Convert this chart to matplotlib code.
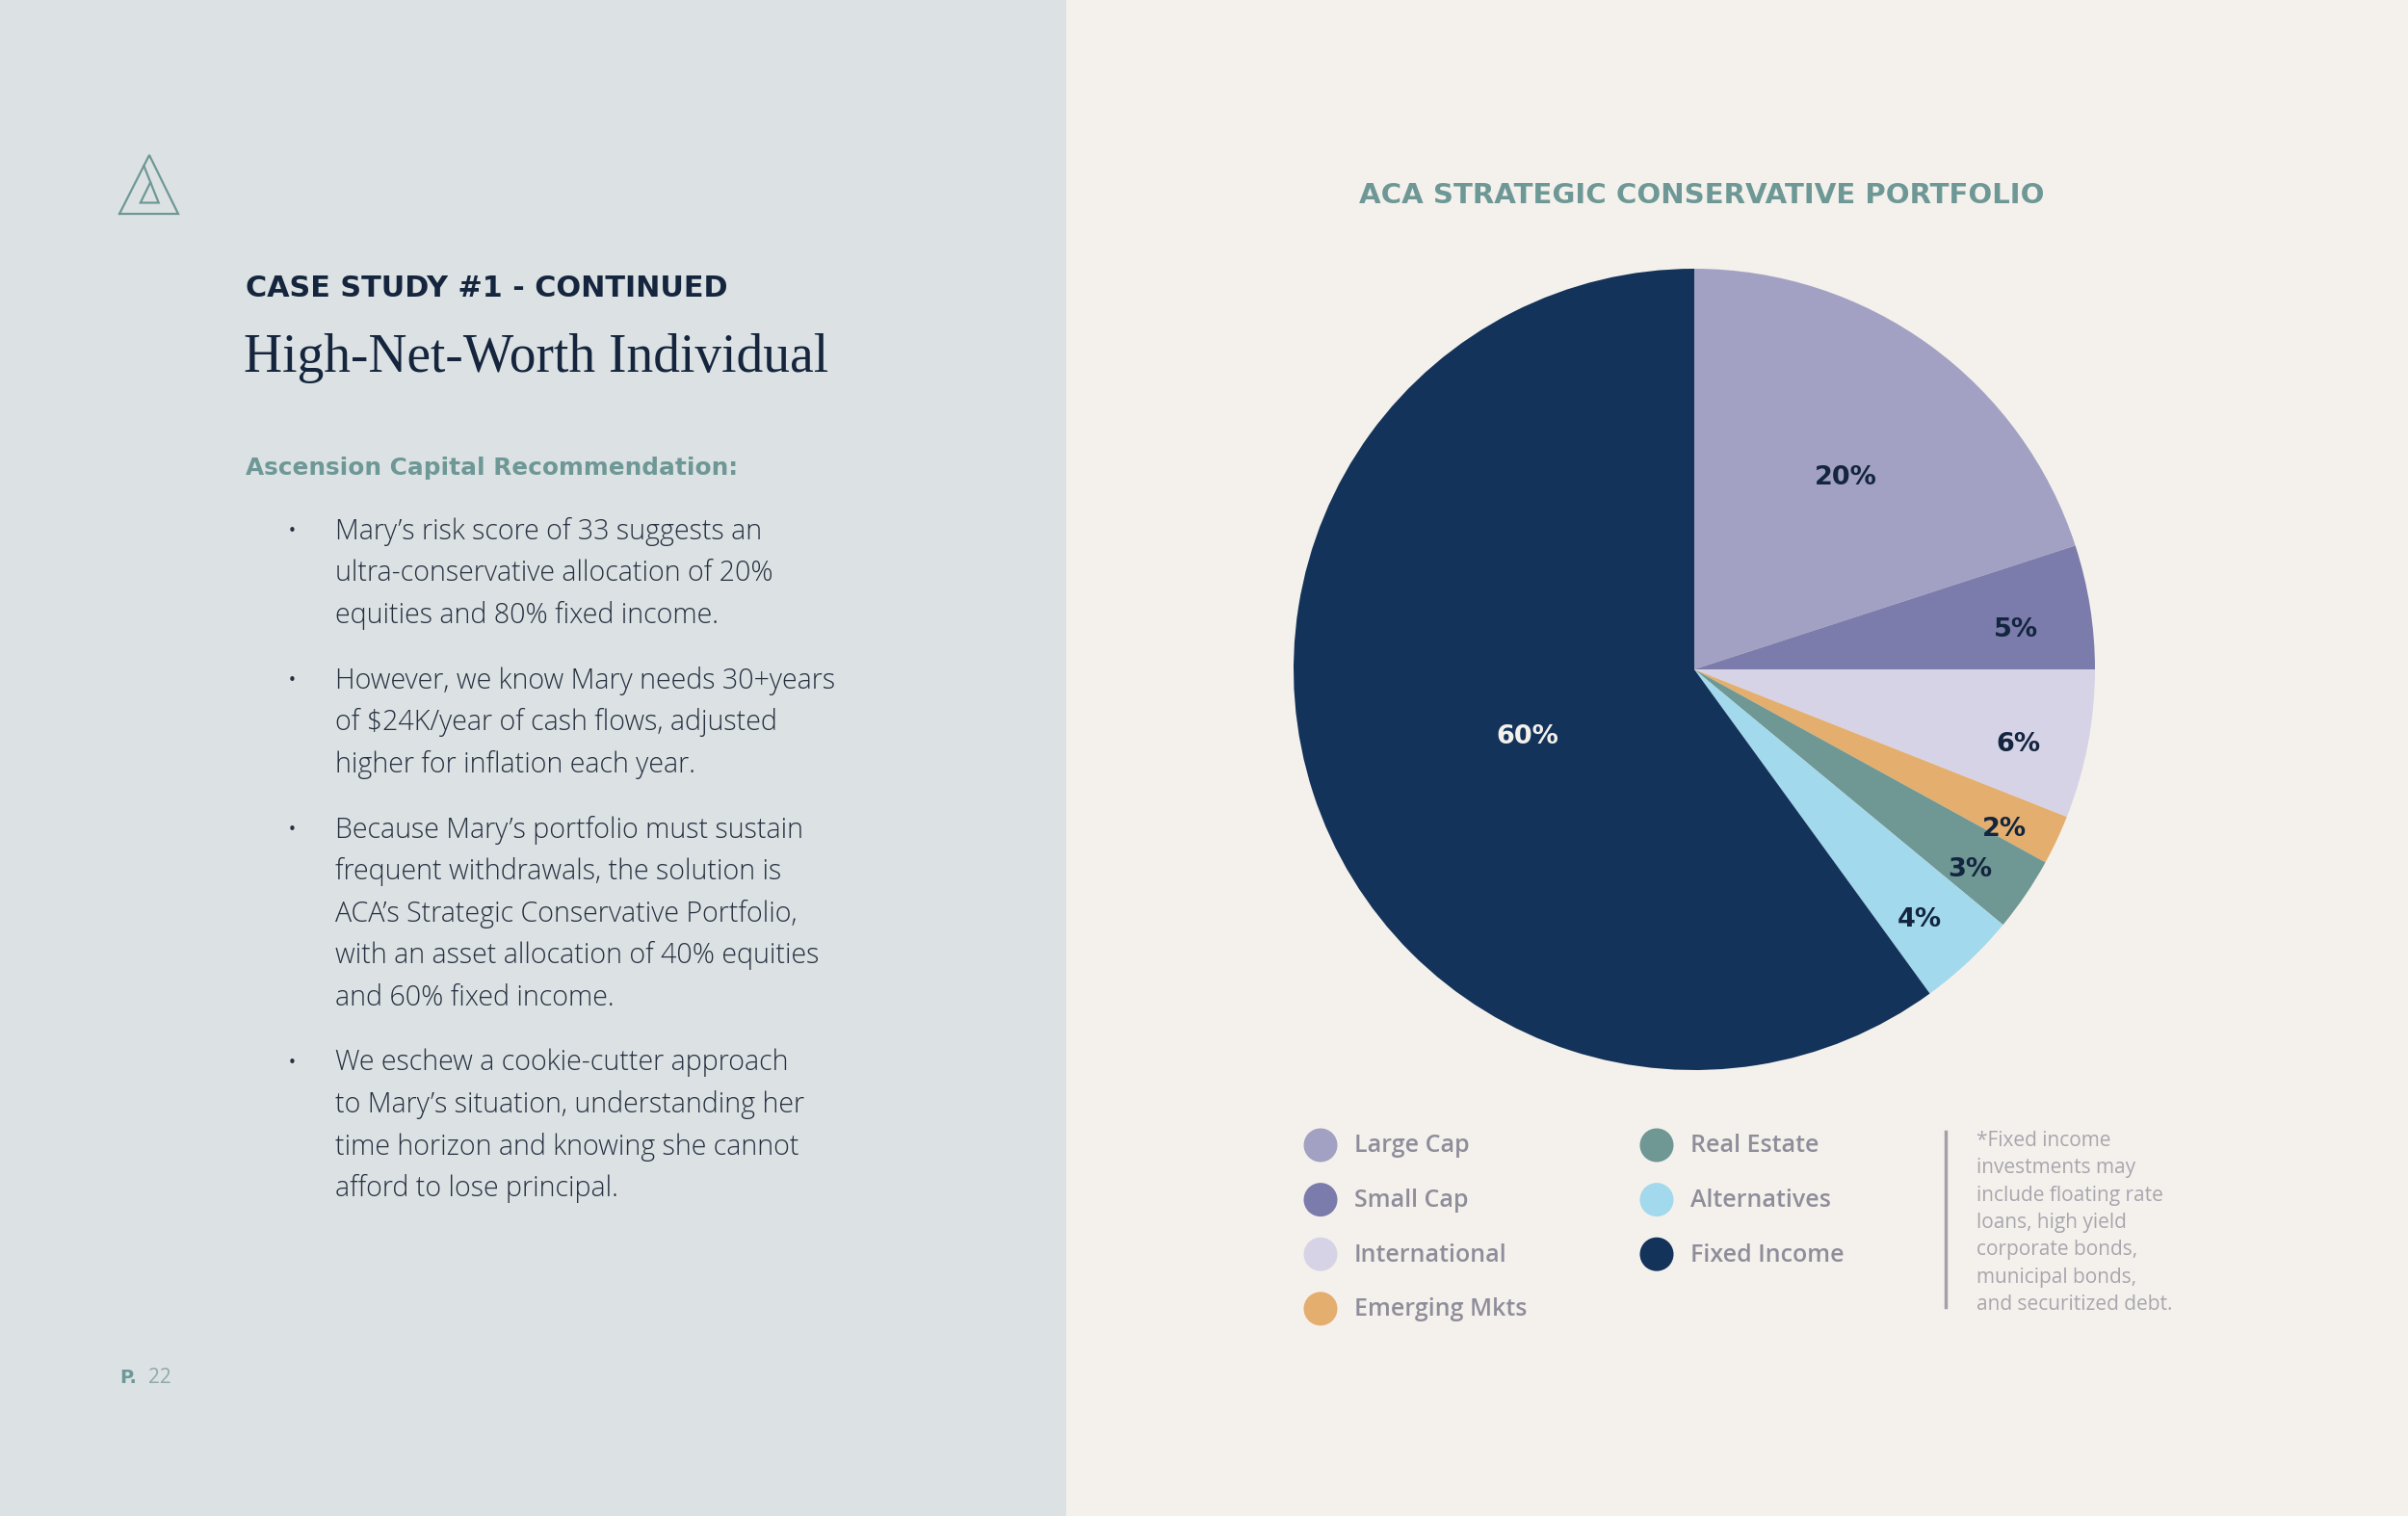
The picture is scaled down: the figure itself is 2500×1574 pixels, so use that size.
import matplotlib
matplotlib.use("Agg")
import matplotlib.pyplot as plt
from matplotlib.patches import Rectangle, Circle
from matplotlib.lines import Line2D
import numpy as np

# ---------------- data ----------------
categories = ["Large Cap", "Small Cap", "International", "Emerging Mkts",
              "Real Estate", "Alternatives", "Fixed Income"]
values = [20, 5, 6, 2, 3, 4, 60]
value_labels = ["20%", "5%", "6%", "2%", "3%", "4%", "60%"]
colors = ["#A3A1C3", "#7B7CAB", "#D7D3E7", "#E4AE6E", "#6F9794", "#A2D9EC", "#13335A"]
label_colors = ["#13253F"] * 6 + ["#F4F1EC"]
label_radius = [0.61, 0.81, 0.83, 0.87, 0.85, 0.84, 0.45]
label_angle_shift = [-2.3, -2.0, -2.2, -2.1, -1.8, -1.3, 4.0]

chart_title = "ACA STRATEGIC CONSERVATIVE PORTFOLIO"
footnote = ["*Fixed income", "investments may", "include floating rate",
            "loans, high yield", "corporate bonds,", "municipal bonds,",
            "and securitized debt."]

kicker = "CASE STUDY #1 - CONTINUED"
headline = "High-Net-Worth Individual"
subhead = "Ascension Capital Recommendation:"
bullets = [
    ["Mary\u2019s risk score of 33 suggests an",
     "ultra-conservative allocation of 20%",
     "equities and 80% fixed income."],
    ["However, we know Mary needs 30+years",
     "of $24K/year of cash flows, adjusted",
     "higher for inflation each year."],
    ["Because Mary\u2019s portfolio must sustain",
     "frequent withdrawals, the solution is",
     "ACA\u2019s Strategic Conservative Portfolio,",
     "with an asset allocation of 40% equities",
     "and 60% fixed income."],
    ["We eschew a cookie-cutter approach",
     "to Mary\u2019s situation, understanding her",
     "time horizon and knowing she cannot",
     "afford to lose principal."],
]
page_no = "22"

# ---------------- style ----------------
W, H = 2500, 1574
DPI = 100
LEFT_BG = "#DCE2E4"
RIGHT_BG = "#F4F1EC"
TEAL = "#6E9896"
NAVY = "#14253D"
BODY = "#263040"
LEG_TXT = "#8F8D9A"
NOTE_TXT = "#A8A6AE"

fig = plt.figure(figsize=(W / DPI, H / DPI), dpi=DPI, facecolor=RIGHT_BG)

# background / text layer in pixel coordinates
bg = fig.add_axes([0, 0, 1, 1], zorder=0)
bg.set_xlim(0, W)
bg.set_ylim(H, 0)
bg.axis("off")
bg.add_patch(Rectangle((0, 0), 1107, H, facecolor=LEFT_BG, edgecolor="none"))

# logo
outer = np.array([[124, 222], [155, 161], [185, 222], [124, 222]])
bg.plot(outer[:, 0], outer[:, 1], color=TEAL, lw=1.6, solid_joinstyle="miter")
inner = np.array([[149.4, 172.2], [164.7, 210.5], [145.8, 210.5], [156, 189.6]])
bg.plot(inner[:, 0], inner[:, 1], color=TEAL, lw=1.6, solid_joinstyle="miter")

# left panel texts
bg.text(255, 299, kicker, fontsize=21.8, fontweight="bold", family="DejaVu Sans",
        color=NAVY, va="center", ha="left")
bg.text(253, 372, headline, fontsize=40, family="Liberation Serif",
        color=NAVY, va="center", ha="left")
bg.text(255, 486, subhead, fontsize=17.8, fontweight="bold", family="DejaVu Sans",
        color=TEAL, va="center", ha="left")

y = 552
line_h = 43.6
para_gap = 24
for para in bullets:
    bg.text(303, y, "\u2022", fontsize=11, color=BODY, va="center", ha="center")
    for line in para:
        bg.text(348, y, line, fontsize=20.6, family="Open Sans", fontweight="light",
                color=BODY, va="center", ha="left", parse_math=False)
        y += line_h
    y += para_gap

bg.text(124, 1431, "P.", fontsize=14, fontweight="bold", family="DejaVu Sans",
        color=TEAL, va="center", ha="left")
bg.text(154, 1431, page_no, fontsize=15, family="Open Sans",
        color="#8FA9A8", va="center", ha="left")

# right panel title
bg.text(1767, 203, chart_title, fontsize=21.1, fontweight="bold", family="DejaVu Sans",
        color=TEAL, va="center", ha="center")

# ---------------- pie ----------------
cx, cy, r = 1759, 695, 416
pax = fig.add_axes([(cx - r) / W, (H - cy - r) / H, 2 * r / W, 2 * r / H], zorder=1)
wedges, _ = pax.pie(values, colors=colors, startangle=90, counterclock=False,
                    radius=1, wedgeprops=dict(linewidth=0, antialiased=True))
pax.set_xlim(-1, 1)
pax.set_ylim(-1, 1)
pax.set_aspect("equal")
pax.axis("off")
for w, lab, lc, lr, sh in zip(wedges, value_labels, label_colors, label_radius,
                              label_angle_shift):
    th = np.deg2rad((w.theta1 + w.theta2) / 2 + sh)
    pax.text(lr * np.cos(th), lr * np.sin(th), lab, ha="center", va="center",
             fontsize=19.5, fontweight="bold", family="DejaVu Sans", color=lc)

# ---------------- legend ----------------
col_x = [1371, 1720]
row_y0, row_dy = 1189, 56.6
per_col = 4
for i, (name, c) in enumerate(zip(categories, colors)):
    col, row = divmod(i, per_col)
    xx = col_x[col]
    yy = row_y0 + row * row_dy
    bg.add_patch(Circle((xx, yy), 17.5, facecolor=c, edgecolor="none"))
    bg.text(xx + 35, yy + 1, name, fontsize=18, family="Open Sans", fontweight="semibold",
            color=LEG_TXT, va="center", ha="left")

bg.add_line(Line2D([2020, 2020], [1175, 1357], color="#A3A1A6", lw=2.5))
for j, line in enumerate(footnote):
    bg.text(2052, 1184 + j * 28.5, line, fontsize=15, family="Open Sans",
            color=NOTE_TXT, va="center", ha="left")

fig.savefig("out.png", dpi=DPI, facecolor=RIGHT_BG)
